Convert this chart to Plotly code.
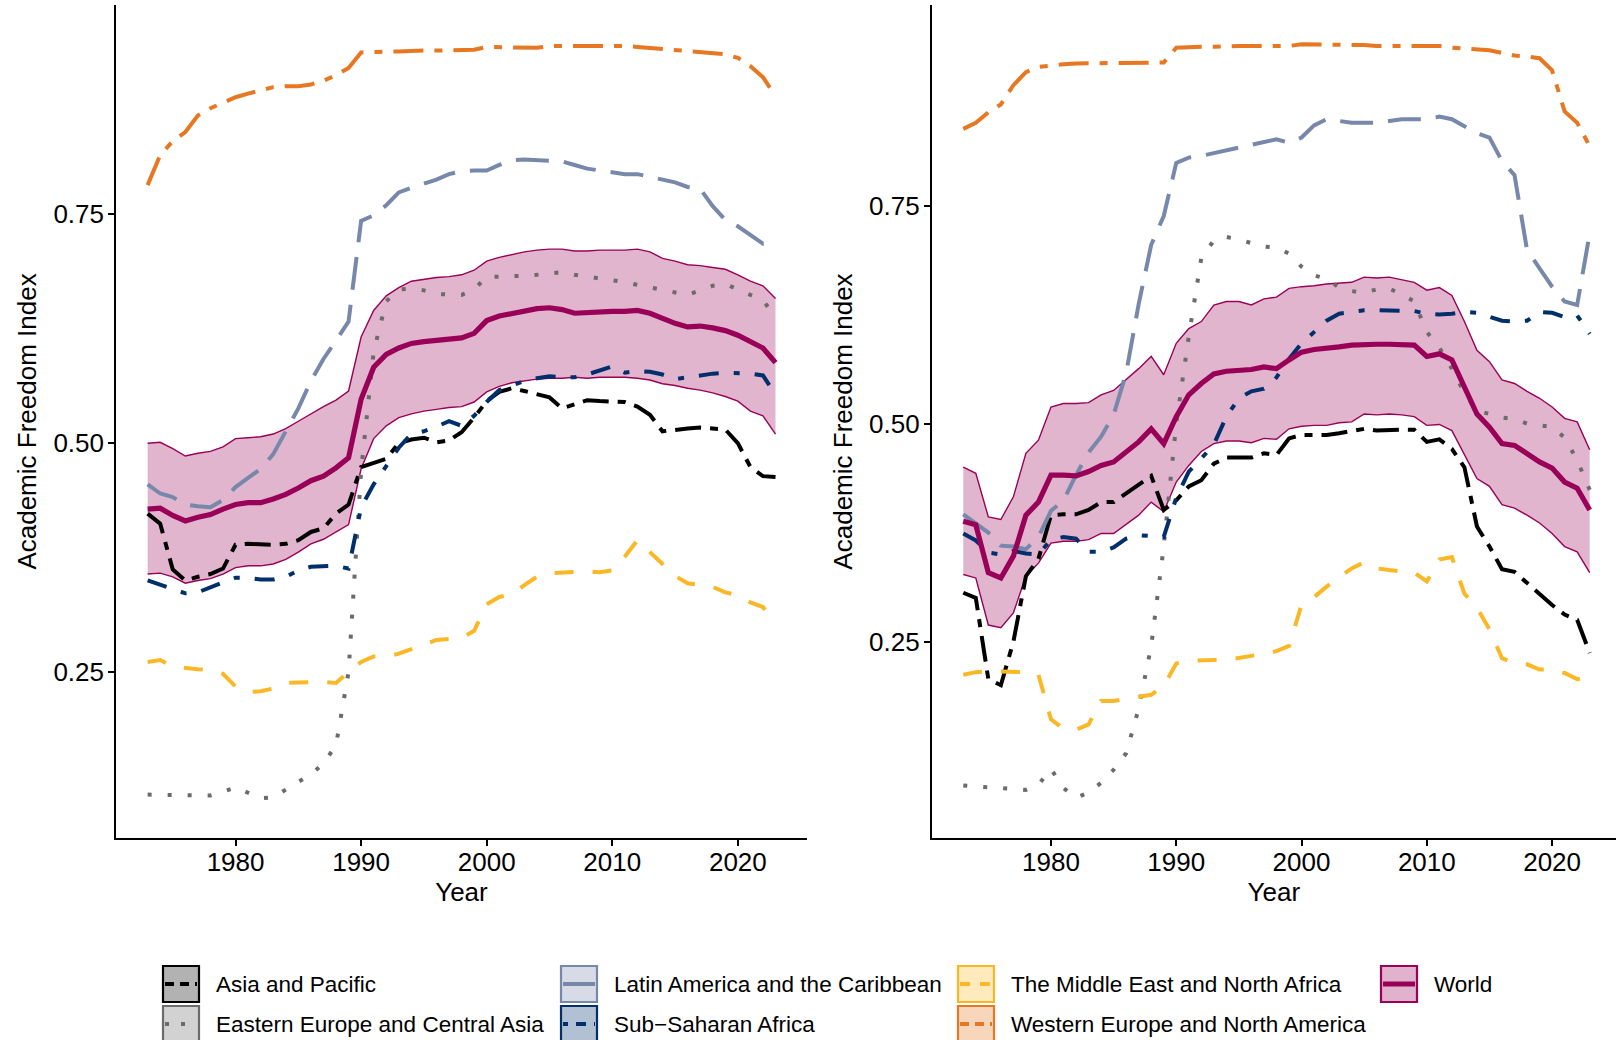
import plotly.graph_objects as go

years = list(range(1973, 2024))

regions = ["Asia and Pacific", "Eastern Europe and Central Asia",
           "Latin America and the Caribbean", "Sub\u2212Saharan Africa",
           "The Middle East and North Africa", "Western Europe and North America",
           "World"]

# ---------------- left panel ----------------
L_asia = [0.423,0.412,0.362,0.350,0.354,0.357,0.363,0.389,0.390,0.389,
          0.389,0.390,0.394,0.403,0.407,0.423,0.433,0.474,0.479,0.483,
          0.500,0.504,0.506,0.501,0.503,0.512,0.528,0.546,0.556,0.560,
          0.557,0.554,0.550,0.538,0.542,0.547,0.546,0.546,0.545,0.540,
          0.531,0.513,0.515,0.516,0.517,0.516,0.515,0.500,0.474,0.464,
          0.463]
L_ee = [0.116,0.116,0.116,0.115,0.115,0.115,0.119,0.124,0.118,0.112,
        0.113,0.122,0.130,0.138,0.150,0.170,0.250,0.470,0.600,0.655,
        0.668,0.669,0.667,0.663,0.662,0.662,0.668,0.682,0.682,0.682,
        0.683,0.684,0.686,0.687,0.684,0.682,0.681,0.678,0.676,0.673,
        0.670,0.667,0.664,0.662,0.667,0.672,0.674,0.668,0.661,0.656,
        0.638]
L_latin = [0.455,0.445,0.441,0.433,0.431,0.430,0.438,0.452,0.462,0.472,
           0.488,0.512,0.538,0.568,0.592,0.612,0.633,0.743,0.749,0.760,
           0.774,0.779,0.783,0.788,0.794,0.797,0.798,0.798,0.804,0.809,
           0.810,0.809,0.808,0.808,0.804,0.800,0.798,0.796,0.794,0.794,
           0.791,0.788,0.785,0.780,0.778,0.759,0.744,0.737,0.727,0.718,
           0.721]
L_ssa = [0.350,0.345,0.341,0.336,0.337,0.343,0.348,0.353,0.353,0.351,
         0.351,0.354,0.361,0.365,0.366,0.366,0.363,0.430,0.455,0.475,
         0.495,0.510,0.513,0.518,0.524,0.519,0.530,0.545,0.558,0.563,
         0.568,0.571,0.573,0.572,0.572,0.575,0.580,0.584,0.577,0.579,
         0.578,0.575,0.570,0.572,0.575,0.576,0.577,0.577,0.576,0.574,
         0.553]
L_mena = [0.261,0.263,0.256,0.254,0.253,0.252,0.248,0.234,0.228,0.229,
          0.232,0.238,0.239,0.239,0.239,0.238,0.250,0.261,0.267,0.267,
          0.270,0.275,0.281,0.285,0.286,0.287,0.295,0.324,0.332,0.335,
          0.345,0.354,0.358,0.359,0.360,0.360,0.359,0.361,0.376,0.394,
          0.381,0.368,0.355,0.347,0.345,0.343,0.337,0.334,0.326,0.321,
          0.303]
L_we = [0.782,0.815,0.830,0.840,0.858,0.866,0.872,0.878,0.882,0.886,
        0.889,0.890,0.890,0.892,0.896,0.902,0.910,0.927,0.928,0.928,
        0.928,0.929,0.929,0.929,0.929,0.929,0.930,0.933,0.933,0.932,
        0.932,0.932,0.934,0.934,0.934,0.934,0.934,0.935,0.934,0.933,
        0.932,0.931,0.930,0.929,0.928,0.926,0.925,0.921,0.912,0.900,
        0.879]
L_world = [0.428,0.429,0.421,0.415,0.419,0.422,0.428,0.433,0.435,0.435,
           0.439,0.444,0.451,0.459,0.464,0.473,0.484,0.548,0.583,0.597,
           0.604,0.609,0.611,0.612,0.613,0.615,0.620,0.634,0.639,0.642,
           0.645,0.647,0.648,0.646,0.642,0.643,0.643,0.644,0.644,0.645,
           0.642,0.636,0.631,0.627,0.628,0.626,0.623,0.618,0.611,0.604,
           0.588]
L_world_hi = [0.500,0.501,0.494,0.486,0.489,0.491,0.496,0.505,0.506,0.507,
              0.510,0.516,0.524,0.532,0.540,0.547,0.557,0.616,0.645,0.661,
              0.670,0.677,0.679,0.681,0.682,0.684,0.689,0.699,0.703,0.706,
              0.709,0.711,0.712,0.712,0.710,0.710,0.711,0.711,0.711,0.712,
              0.709,0.702,0.699,0.695,0.694,0.692,0.690,0.684,0.677,0.672,
              0.658]
L_world_lo = [0.357,0.358,0.354,0.347,0.350,0.352,0.357,0.364,0.366,0.366,
              0.368,0.373,0.381,0.390,0.395,0.403,0.411,0.472,0.505,0.519,
              0.528,0.532,0.535,0.537,0.539,0.540,0.545,0.556,0.562,0.566,
              0.568,0.570,0.571,0.571,0.572,0.571,0.572,0.572,0.572,0.571,
              0.569,0.565,0.563,0.560,0.558,0.555,0.551,0.546,0.535,0.530,
              0.510]

# ---------------- right panel ----------------
R_asia = [0.306,0.300,0.207,0.200,0.250,0.325,0.345,0.395,0.396,0.396,
          0.401,0.410,0.410,0.420,0.431,0.440,0.401,0.412,0.428,0.435,
          0.454,0.461,0.461,0.461,0.466,0.464,0.483,0.487,0.487,0.487,
          0.489,0.491,0.494,0.492,0.493,0.493,0.493,0.479,0.482,0.471,
          0.450,0.382,0.359,0.333,0.330,0.317,0.304,0.292,0.281,0.275,
          0.237]
R_ee = [0.085,0.084,0.083,0.081,0.080,0.080,0.086,0.104,0.082,0.071,
        0.077,0.088,0.103,0.122,0.173,0.245,0.359,0.500,0.600,0.690,
        0.710,0.714,0.711,0.707,0.703,0.702,0.695,0.680,0.670,0.666,
        0.656,0.652,0.650,0.654,0.655,0.648,0.640,0.605,0.587,0.563,
        0.535,0.515,0.511,0.507,0.505,0.500,0.498,0.496,0.484,0.458,
        0.424]
R_latin = [0.396,0.386,0.375,0.360,0.359,0.356,0.370,0.400,0.412,0.441,
           0.467,0.485,0.510,0.558,0.637,0.705,0.738,0.799,0.805,0.807,
           0.810,0.813,0.816,0.819,0.822,0.826,0.822,0.828,0.842,0.849,
           0.847,0.845,0.845,0.845,0.847,0.849,0.849,0.849,0.852,0.849,
           0.841,0.833,0.828,0.801,0.785,0.699,0.678,0.657,0.640,0.636,
           0.718]
R_ssa = [0.374,0.366,0.352,0.350,0.354,0.351,0.350,0.367,0.370,0.368,
         0.353,0.353,0.358,0.368,0.372,0.371,0.370,0.415,0.445,0.460,
         0.476,0.508,0.529,0.537,0.540,0.553,0.574,0.592,0.605,0.618,
         0.626,0.628,0.630,0.630,0.630,0.630,0.629,0.626,0.625,0.626,
         0.628,0.627,0.622,0.618,0.617,0.618,0.628,0.627,0.622,0.624,
         0.603]
R_mena = [0.212,0.215,0.216,0.216,0.216,0.215,0.212,0.161,0.150,0.149,
          0.155,0.182,0.182,0.184,0.187,0.189,0.199,0.225,0.228,0.229,
          0.229,0.229,0.231,0.233,0.236,0.239,0.245,0.292,0.301,0.313,
          0.323,0.334,0.341,0.334,0.332,0.331,0.329,0.319,0.344,0.347,
          0.305,0.289,0.264,0.231,0.225,0.224,0.218,0.218,0.214,0.207,
          0.209]
R_we = [0.838,0.845,0.857,0.866,0.888,0.903,0.909,0.911,0.912,0.913,
        0.913,0.913,0.913,0.913,0.913,0.913,0.914,0.931,0.932,0.932,
        0.932,0.933,0.933,0.933,0.933,0.933,0.933,0.935,0.935,0.935,
        0.935,0.935,0.934,0.933,0.933,0.933,0.933,0.934,0.933,0.931,
        0.930,0.929,0.928,0.925,0.922,0.921,0.919,0.905,0.858,0.845,
        0.818]
R_world = [0.388,0.384,0.329,0.323,0.348,0.395,0.410,0.441,0.441,0.440,
           0.445,0.452,0.456,0.468,0.479,0.494,0.477,0.508,0.533,0.546,
           0.557,0.560,0.561,0.562,0.565,0.563,0.573,0.582,0.585,0.586,
           0.588,0.590,0.591,0.591,0.591,0.591,0.590,0.577,0.580,0.573,
           0.543,0.511,0.496,0.477,0.475,0.466,0.456,0.449,0.433,0.426,
           0.401]
R_world_hi = [0.450,0.443,0.393,0.390,0.416,0.466,0.481,0.519,0.523,0.523,
              0.524,0.533,0.538,0.550,0.563,0.577,0.556,0.592,0.609,0.617,
              0.636,0.640,0.640,0.636,0.643,0.645,0.655,0.657,0.658,0.660,
              0.661,0.662,0.668,0.667,0.668,0.665,0.662,0.653,0.656,0.647,
              0.617,0.584,0.571,0.550,0.546,0.537,0.529,0.519,0.506,0.502,
              0.470]
R_world_lo = [0.327,0.323,0.269,0.266,0.283,0.325,0.340,0.363,0.365,0.365,
              0.367,0.374,0.374,0.384,0.395,0.410,0.399,0.433,0.452,0.468,
              0.477,0.480,0.480,0.478,0.483,0.482,0.494,0.497,0.498,0.498,
              0.501,0.502,0.511,0.510,0.511,0.510,0.508,0.498,0.499,0.492,
              0.464,0.437,0.428,0.407,0.403,0.395,0.386,0.374,0.359,0.353,
              0.329]

x_tick_vals = [1980, 1990, 2000, 2010, 2020]
y_tick_vals = [0.25, 0.50, 0.75]
y_tick_text = ["0.25", "0.50", "0.75"]

# ---------------- styles ----------------
colors = {
    "Asia and Pacific": "#000000",
    "Eastern Europe and Central Asia": "#6b6b6b",
    "Latin America and the Caribbean": "#7788AA",
    "Sub\u2212Saharan Africa": "#002F6C",
    "The Middle East and North Africa": "#FBB826",
    "Western Europe and North America": "#E87722",
    "World": "#990057",
}
rgb = {
    "Asia and Pacific": (0, 0, 0),
    "Eastern Europe and Central Asia": (107, 107, 107),
    "Latin America and the Caribbean": (119, 136, 170),
    "Sub\u2212Saharan Africa": (0, 47, 108),
    "The Middle East and North Africa": (251, 184, 38),
    "Western Europe and North America": (232, 119, 34),
    "World": (153, 0, 87),
}
dashes = {
    "Asia and Pacific": "26px,9px,8px,9px",
    "Eastern Europe and Central Asia": "4px,16px",
    "Latin America and the Caribbean": "33px,15px",
    "Sub\u2212Saharan Africa": "20px,15px,6px,15px",
    "The Middle East and North Africa": "19px,19px",
    "Western Europe and North America": "30px,11px,8px,11px",
    "World": "solid",
}
key_dashes = {
    "Asia and Pacific": "9px,6px",
    "Eastern Europe and Central Asia": "4px,12px",
    "Latin America and the Caribbean": "solid",
    "Sub\u2212Saharan Africa": "5px,8px,10px,8px",
    "The Middle East and North Africa": "10px,10px",
    "Western Europe and North America": "9px,6px",
    "World": "solid",
}

FONT = "Liberation Sans, Arial, Helvetica, sans-serif"
W, H = 1616, 1040
ML, MR, MT, MB = 116, 0, 5, 202
PW = W - ML - MR
PH = H - MT - MB
PLOT_BOTTOM = H - MB

fig = go.Figure()

panels = [
    ("x", "y", L_world_lo, L_world_hi,
     [L_asia, L_ee, L_latin, L_ssa, L_mena, L_we, L_world]),
    ("x2", "y2", R_world_lo, R_world_hi,
     [R_asia, R_ee, R_latin, R_ssa, R_mena, R_we, R_world]),
]

for xa, ya, lo, hi, series in panels:
    wc = colors["World"]
    fig.add_trace(go.Scatter(x=years, y=lo, mode="lines", xaxis=xa, yaxis=ya,
                             line=dict(color=wc, width=1.4), showlegend=False,
                             hoverinfo="skip"))
    fig.add_trace(go.Scatter(x=years, y=hi, mode="lines", xaxis=xa, yaxis=ya,
                             line=dict(color=wc, width=1.4), fill="tonexty",
                             fillcolor="rgba(153,0,87,0.29)", showlegend=False,
                             hoverinfo="skip"))
    for name, vals in zip(regions, series):
        fig.add_trace(go.Scatter(
            x=years, y=vals, mode="lines", name=name, xaxis=xa, yaxis=ya,
            line=dict(color=colors[name], width=5.2 if name == "World" else 4,
                      dash=dashes[name]),
            showlegend=False))

axis_common = dict(showline=True, linecolor="black", linewidth=1.6,
                   ticks="outside", ticklen=6, tickwidth=1.6, tickcolor="black",
                   showgrid=False, zeroline=False, automargin=False,
                   tickfont=dict(family=FONT, size=26, color="black"))

fig.update_layout(
    width=W, height=H,
    margin=dict(l=ML, r=MR, t=MT, b=MB, pad=0, autoexpand=False),
    paper_bgcolor="white", plot_bgcolor="white",
    font=dict(family=FONT, color="black"),
    showlegend=False,
    xaxis=dict(domain=[0, 0.4606], range=[1970.48, 2025.5], anchor="y",
               tickvals=x_tick_vals, ticklabelstandoff=-6,
               title=dict(text="Year", font=dict(family=FONT, size=26, color="black"), standoff=4),
               **axis_common),
    yaxis=dict(domain=[0, 1], range=[0.0686, 0.9788], anchor="x",
               tickvals=y_tick_vals, ticktext=y_tick_text, ticklabelstandoff=-1,
               title=dict(text="Academic Freedom Index",
                          font=dict(family=FONT, size=26, color="black"), standoff=9),
               **axis_common),
    xaxis2=dict(domain=[0.5438, 1], range=[1970.48, 2025.1], anchor="y2",
                tickvals=x_tick_vals, ticklabelstandoff=-6,
                title=dict(text="Year", font=dict(family=FONT, size=26, color="black"), standoff=4),
                **axis_common),
    yaxis2=dict(domain=[0, 1], range=[0.0248, 0.98], anchor="x2",
                tickvals=y_tick_vals, ticktext=y_tick_text, ticklabelstandoff=-1,
                title=dict(text="Academic Freedom Index",
                           font=dict(family=FONT, size=26, color="black"), standoff=9),
                **axis_common),
)

# ---------------- manual legend (ggplot-style keys) ----------------
def pxx(px):
    return (px - ML) / PW

def pxy(py):
    return (PLOT_BOTTOM - py) / PH

col_left = [163, 561, 958, 1381]
row_top = [966, 1006]
KEY = 36
layout_slots = [(0, 0), (0, 1), (1, 0), (1, 1), (2, 0), (2, 1), (3, 0)]

shapes = []
annotations = []
for name, (c, r) in zip(regions, layout_slots):
    x0 = col_left[c]
    y0 = row_top[r]
    R, G, B = rgb[name]
    shapes.append(dict(type="rect", xref="paper", yref="paper",
                       x0=pxx(x0), x1=pxx(x0 + KEY), y0=pxy(y0 + KEY), y1=pxy(y0),
                       fillcolor=f"rgba({R},{G},{B},0.3)",
                       line=dict(color=colors[name], width=2.2), layer="above"))
    yc = y0 + KEY / 2
    shapes.append(dict(type="line", xref="paper", yref="paper",
                       x0=pxx(x0 + 2), x1=pxx(x0 + KEY - 2), y0=pxy(yc), y1=pxy(yc),
                       line=dict(color=colors[name], width=5 if name == "World" else 4,
                                 dash=key_dashes[name]), layer="above"))
    annotations.append(dict(text=name, xref="paper", yref="paper",
                            x=pxx(x0 + 51), y=pxy(yc), xanchor="left", yanchor="middle",
                            showarrow=False,
                            font=dict(family=FONT, size=22.5, color="black")))

fig.update_layout(shapes=shapes, annotations=annotations)

# remove the default 8px page margin so the figure sits at the window's corner
fig.write_html("out.html",
               config={"displayModeBar": False},
               post_script="document.body.style.margin='0';document.body.style.overflow='hidden';")
